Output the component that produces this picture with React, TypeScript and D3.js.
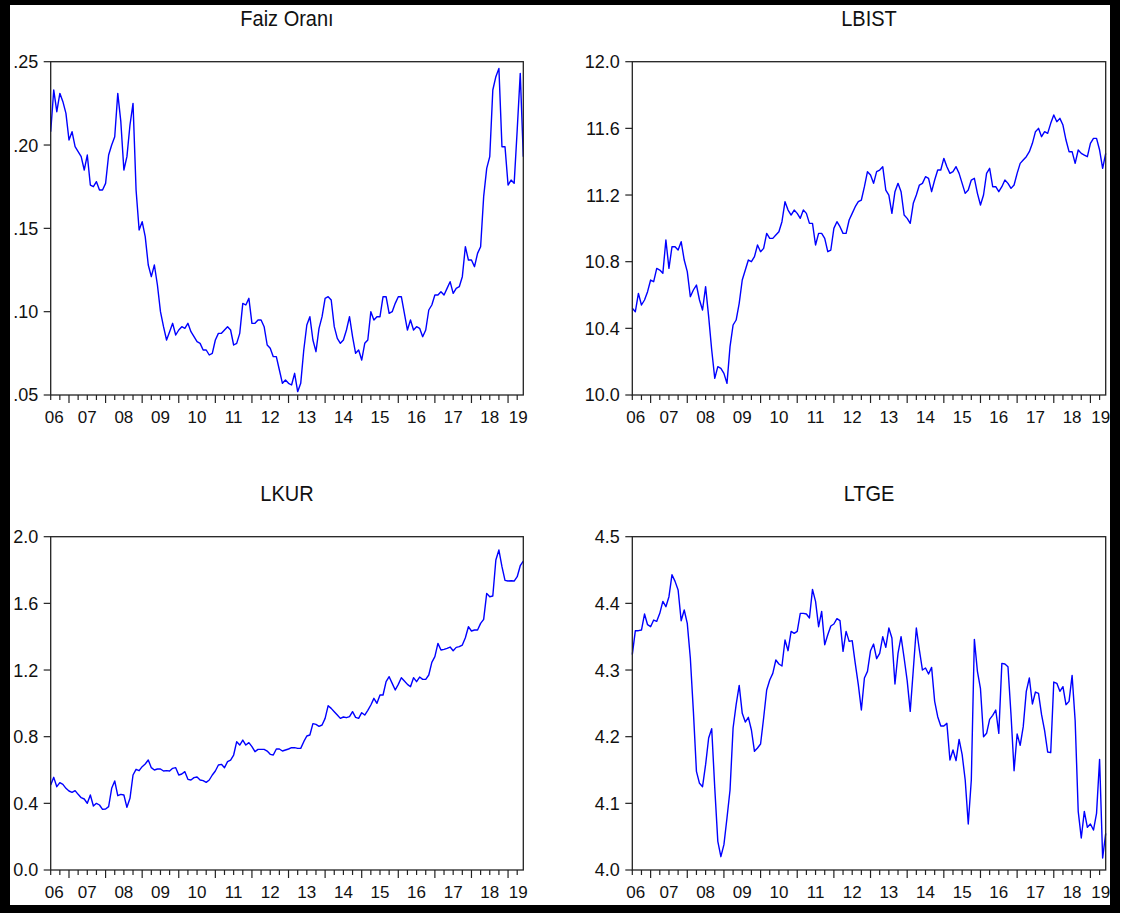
import React, { useEffect, useRef } from 'react';
import * as d3 from 'd3';

// Monthly observations, 2006M07 .. 2019M06
const START_YEAR = 2006;
const START_MONTH = 6; // 0-based month index (July)

const faizOrani = [
  .208, .233, .220, .231, .226, .219,
  .203, .208, .199, .196, .193, .185, .194, .176, .175, .178, .173, .173,
  .177, .194, .200, .205, .231, .214, .185, .193, .212, .225, .173, .149,
  .154, .145, .128, .121, .128, .116, .100, .091, .083, .088, .093, .086,
  .089, .091, .090, .093, .088, .085, .082, .081, .077, .077, .074, .075,
  .083, .087, .087, .089, .091, .089, .080, .081, .087, .105, .104, .108,
  .093, .093, .095, .095, .091, .080, .078, .073, .073, .065, .057, .059,
  .057, .056, .063, .052, .057, .077, .092, .097, .083, .076, .090, .097,
  .108, .109, .107, .091, .084, .081, .083, .089, .097, .085, .075, .077,
  .071, .081, .083, .100, .095, .097, .097, .109, .109, .099, .100, .105,
  .109, .109, .099, .089, .095, .089, .091, .090, .085, .089, .101, .104,
  .110, .110, .112, .110, .114, .118, .111, .114, .115, .121, .139, .131,
  .131, .127, .135, .139, .169, .186, .193, .233, .241, .246, .199, .199,
  .176, .179, .177, .209, .243, .193,
];

const lbist = [
  10.52, 10.50, 10.61, 10.54, 10.57, 10.62,
  10.69, 10.68, 10.76, 10.75, 10.73, 10.93, 10.76, 10.89, 10.89, 10.87, 10.92, 10.81,
  10.74, 10.59, 10.63, 10.66, 10.57, 10.51, 10.65, 10.47, 10.27, 10.10, 10.17, 10.16,
  10.13, 10.07, 10.29, 10.42, 10.45, 10.55, 10.69, 10.75, 10.81, 10.80, 10.83, 10.90,
  10.86, 10.88, 10.97, 10.94, 10.94, 10.96, 10.98, 11.04, 11.16, 11.11, 11.08, 11.11,
  11.09, 11.06, 11.11, 11.09, 11.03, 11.03, 10.90, 10.97, 10.97, 10.94, 10.86, 10.87,
  11.00, 11.04, 11.01, 10.97, 10.97, 11.05, 11.09, 11.13, 11.16, 11.17, 11.25, 11.34,
  11.32, 11.27, 11.34, 11.35, 11.37, 11.23, 11.20, 11.09, 11.22, 11.27, 11.22, 11.08,
  11.06, 11.03, 11.15, 11.20, 11.26, 11.27, 11.31, 11.30, 11.22, 11.29, 11.35, 11.35,
  11.42, 11.37, 11.33, 11.34, 11.37, 11.33, 11.27, 11.21, 11.23, 11.29, 11.30, 11.21,
  11.14, 11.20, 11.33, 11.36, 11.25, 11.25, 11.22, 11.25, 11.29, 11.27, 11.24, 11.26,
  11.33, 11.39, 11.41, 11.43, 11.46, 11.51, 11.58, 11.60, 11.55, 11.58, 11.57, 11.63,
  11.68, 11.64, 11.66, 11.62, 11.53, 11.46, 11.46, 11.39, 11.47, 11.45, 11.44, 11.43,
  11.51, 11.54, 11.54, 11.47, 11.36, 11.45,
];

const lkur = [
  .510, .556, .500, .524, .514, .490,
  .474, .466, .476, .454, .434, .426, .400, .450, .384, .400, .390, .364,
  .366, .380, .490, .534, .446, .454, .450, .376, .430, .570, .604, .596,
  .620, .636, .660, .614, .600, .606, .606, .594, .596, .594, .610, .614,
  .570, .576, .590, .544, .540, .554, .558, .540, .536, .526, .540, .570,
  .594, .630, .634, .614, .650, .660, .690, .770, .750, .780, .750, .764,
  .740, .710, .724, .724, .724, .714, .694, .690, .726, .726, .714, .720,
  .726, .734, .734, .730, .730, .770, .804, .810, .878, .874, .862, .870,
  .910, .986, .970, .950, .930, .910, .918, .914, .920, .950, .916, .910,
  .944, .930, .958, .990, 1.030, 1.000, 1.050, 1.050, 1.130, 1.160, 1.120, 1.080,
  1.114, 1.154, 1.134, 1.114, 1.100, 1.154, 1.130, 1.158, 1.144, 1.144, 1.170, 1.246,
  1.280, 1.360, 1.320, 1.324, 1.330, 1.338, 1.316, 1.336, 1.340, 1.350, 1.394, 1.460,
  1.434, 1.440, 1.440, 1.480, 1.504, 1.660, 1.640, 1.644, 1.860, 1.920, 1.820, 1.738,
  1.734, 1.736, 1.734, 1.760, 1.826, 1.854,
];

const ltge = [
  4.323, 4.359, 4.359, 4.360, 4.384, 4.368,
  4.365, 4.375, 4.373, 4.385, 4.403, 4.395, 4.410, 4.443, 4.433, 4.420, 4.374, 4.390,
  4.370, 4.318, 4.238, 4.148, 4.130, 4.125, 4.158, 4.198, 4.212, 4.123, 4.043, 4.020,
  4.038, 4.078, 4.120, 4.213, 4.248, 4.277, 4.235, 4.222, 4.229, 4.210, 4.178, 4.183,
  4.189, 4.228, 4.270, 4.285, 4.295, 4.315, 4.309, 4.306, 4.345, 4.329, 4.358, 4.355,
  4.358, 4.385, 4.385, 4.384, 4.378, 4.421, 4.403, 4.365, 4.388, 4.338, 4.353, 4.366,
  4.369, 4.377, 4.374, 4.328, 4.358, 4.343, 4.344, 4.310, 4.278, 4.240, 4.288, 4.298,
  4.329, 4.339, 4.317, 4.325, 4.350, 4.334, 4.363, 4.348, 4.279, 4.325, 4.350, 4.318,
  4.284, 4.238, 4.300, 4.363, 4.330, 4.300, 4.303, 4.294, 4.304, 4.253, 4.230, 4.216,
  4.216, 4.220, 4.165, 4.180, 4.164, 4.196, 4.173, 4.135, 4.069, 4.135, 4.346, 4.298,
  4.272, 4.200, 4.205, 4.226, 4.232, 4.240, 4.205, 4.310, 4.309, 4.305, 4.233, 4.149,
  4.204, 4.187, 4.215, 4.268, 4.288, 4.249, 4.267, 4.265, 4.233, 4.209, 4.177, 4.176,
  4.282, 4.280, 4.268, 4.275, 4.248, 4.253, 4.292, 4.224, 4.088, 4.048, 4.088, 4.064,
  4.069, 4.060, 4.085, 4.166, 4.018, 4.055,
];

const titles = ['Faiz Oranı', 'LBIST', 'LKUR', 'LTGE'];
const faizTicks = [0.05, 0.10, 0.15, 0.20, 0.25];
const lbistTicks = [10.0, 10.4, 10.8, 11.2, 11.6, 12.0];
const lkurTicks = [0.0, 0.4, 0.8, 1.2, 1.6, 2.0];
const ltgeTicks = [4.0, 4.1, 4.2, 4.3, 4.4, 4.5];
const yearLabels = ['06', '07', '08', '09', '10', '11', '12', '13', '14', '15', '16', '17', '18', '19'];

const FONT = '"Liberation Sans", Arial, Helvetica, sans-serif';

export default function App() {
  const ref = useRef<SVGSVGElement>(null);

  useEffect(() => {
    const svg = d3.select(ref.current);
    svg.selectAll('*').remove();

    svg.append('rect').attr('x', 0).attr('y', 0).attr('width', 1136).attr('height', 913).attr('fill', '#ffffff');

    const fmtFaiz = (v: number) => d3.format('.2f')(v).replace(/^0/, '');
    const fmt1 = (v: number) => d3.format('.1f')(v);

    const panels = [
      { title: titles[0], data: faizOrani, domain: [0.05, 0.25], ticks: faizTicks, fmt: fmtFaiz, left: 50.7, right: 523.3, top: 61.7, bottom: 395 },
      { title: titles[1], data: lbist, domain: [10.0, 12.0], ticks: lbistTicks, fmt: fmt1, left: 632.3, right: 1105.7, top: 61.7, bottom: 395 },
      { title: titles[2], data: lkur, domain: [0.0, 2.0], ticks: lkurTicks, fmt: fmt1, left: 50.7, right: 523.3, top: 536.7, bottom: 870 },
      { title: titles[3], data: ltge, domain: [4.0, 4.5], ticks: ltgeTicks, fmt: fmt1, left: 632.3, right: 1105.7, top: 536.7, bottom: 870 },
    ];

    panels.forEach((p) => {
      const n = p.data.length;
      const x = d3.scaleLinear().domain([0, n - 1]).range([p.left, p.right]);
      const y = d3.scaleLinear().domain(p.domain).range([p.bottom, p.top]);
      const g = svg.append('g');

      // title
      g.append('text')
        .attr('transform', `translate(${(p.left + p.right) / 2},${p.top - 35.7}) scale(1,1.1)`)
        .attr('text-anchor', 'middle')
        .attr('font-family', FONT)
        .attr('font-size', 20)
        .attr('fill', '#111')
        .text(p.title);

      // y ticks & labels
      p.ticks.forEach((t) => {
        g.append('line')
          .attr('x1', p.left - 7).attr('x2', p.left)
          .attr('y1', y(t)).attr('y2', y(t))
          .attr('stroke', '#222').attr('stroke-width', 1.2);
        g.append('text')
          .attr('x', p.left - 12.5).attr('y', y(t))
          .attr('dy', '0.36em')
          .attr('text-anchor', 'end')
          .attr('font-family', FONT)
          .attr('font-size', 18)
          .attr('fill', '#111')
          .text(p.fmt(t));
      });

      // x ticks: quarterly minor, yearly major
      d3.range(n).forEach((i) => {
        const m = (START_MONTH + i) % 12;
        if (m % 3 !== 0) return;
        const len = m === 0 ? 8 : 5;
        g.append('line')
          .attr('x1', x(i)).attr('x2', x(i))
          .attr('y1', p.bottom).attr('y2', p.bottom + len)
          .attr('stroke', '#222').attr('stroke-width', 1.2);
      });

      // year labels
      yearLabels.forEach((lab, k) => {
        const yr = START_YEAR + k;
        const s = (yr - START_YEAR) * 12 - START_MONTH; // index of January of yr
        let cx: number;
        if (s < 0) cx = p.left + 3.5;
        else if (s + 12 > n - 1) cx = p.right - 5;
        else cx = x(s + 6);
        g.append('text')
          .attr('x', cx).attr('y', p.bottom + 27.7)
          .attr('text-anchor', 'middle')
          .attr('font-family', FONT)
          .attr('font-size', 17)
          .attr('fill', '#111')
          .text(lab);
      });

      // data line
      const line = d3.line<number>().x((_, i) => x(i)).y((d) => y(d));
      g.append('path')
        .attr('d', line(p.data) as string)
        .attr('fill', 'none')
        .attr('stroke', '#0000ff')
        .attr('stroke-width', 1.4)
        .attr('stroke-linejoin', 'round');

      // frame
      g.append('rect')
        .attr('x', p.left).attr('y', p.top)
        .attr('width', p.right - p.left).attr('height', p.bottom - p.top)
        .attr('fill', 'none')
        .attr('stroke', '#222').attr('stroke-width', 1.3);
    });

    // black outer border
    const border = [
      [0, 0, 10, 913],
      [0, 0, 1120, 5],
      [1110, 0, 10, 913],
      [0, 905, 1120, 8],
    ];
    border.forEach(([bx, by, bw, bh]) => {
      svg.append('rect').attr('x', bx).attr('y', by).attr('width', bw).attr('height', bh).attr('fill', '#000');
    });
  }, []);

  return (
    <div style={{ position: 'absolute', left: 0, top: 0 }}>
      <svg ref={ref} width={1136} height={913} style={{ display: 'block' }} />
    </div>
  );
}
